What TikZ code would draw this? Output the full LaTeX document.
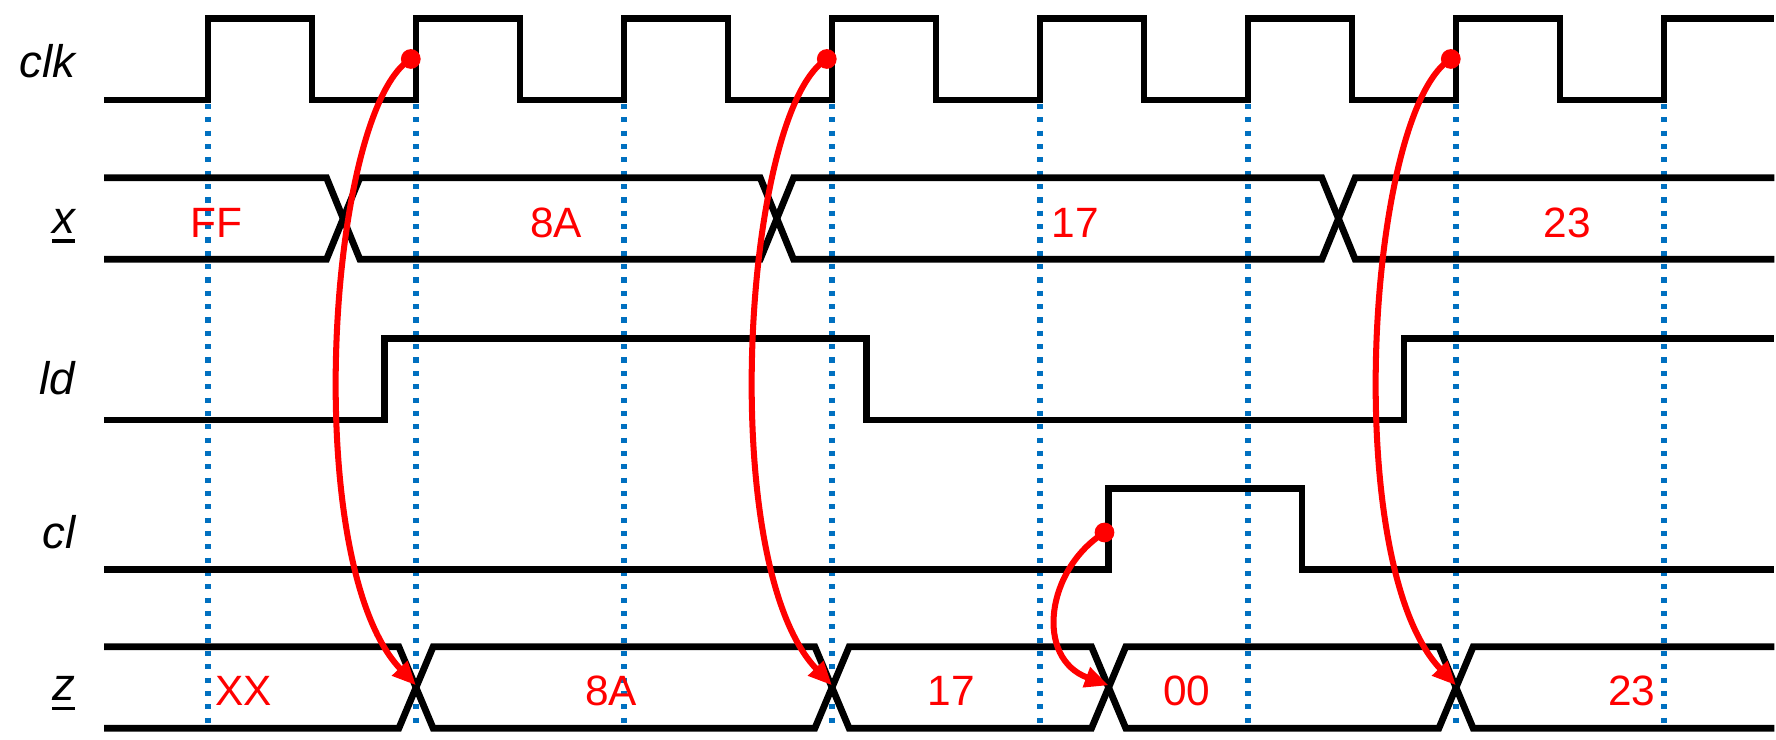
\documentclass[tikz,border=0pt]{standalone}
\usepackage{fontspec}
\setmainfont{Liberation Sans}
\definecolor{timingblue}{RGB}{0,112,192}
\definecolor{timingred}{RGB}{255,0,0}
\usetikzlibrary{arrows.meta}
\newcommand{\busname}[1]{\setbox0\hbox{#1}\rlap{\raisebox{-2.6pt}{\rule{\wd0}{1pt}}}\box0}

\begin{document}
\begin{tikzpicture}[
    wave/.style={line width=1.85pt, line join=miter},
    guide/.style={timingblue, line width=1.65pt, dash pattern=on 1.4pt off 2.25pt},
    cause/.style={timingred, line width=1.65pt, -{Triangle[length=6.5pt,width=5.5pt]}},
    sig/.style={font=\fontsize{12.5}{14}\selectfont\itshape, anchor=base east, inner sep=0pt},
    val/.style={font=\fontsize{11.6}{13}\selectfont, text=timingred, anchor=base, inner sep=0pt}
]
    \useasboundingbox (0,0) rectangle (17.077,-7.106);

    % Dotted guides at the rising clock edges
    \foreach \t in {2,4,...,16}
        \draw[guide] (\t,-1.0) -- (\t,-6.98);

    % clk
    \draw[wave] (1,-0.962) foreach \t in {2,4,...,14} {
        -- (\t,-0.962) -- (\t,-0.176) -- (\t+1,-0.176) -- (\t+1,-0.962) }
        -- (16,-0.962) -- (16,-0.176) -- (17.06,-0.176);

    % x bus
    \draw[wave] (1,-1.71) -- (3.14,-1.71) -- (3.46,-2.493) -- (7.31,-2.493) -- (7.63,-1.71)
        -- (12.71,-1.71) -- (13.03,-2.493) -- (17.06,-2.493);
    \draw[wave] (1,-2.493) -- (3.14,-2.493) -- (3.46,-1.71) -- (7.31,-1.71) -- (7.63,-2.493)
        -- (12.71,-2.493) -- (13.03,-1.71) -- (17.06,-1.71);

    % ld
    \draw[wave] (1,-4.038) -- (3.70,-4.038) -- (3.70,-3.253) -- (8.33,-3.253) -- (8.33,-4.038)
        -- (13.5,-4.038) -- (13.5,-3.253) -- (17.06,-3.253);

    % cl
    \draw[wave] (1,-5.474) -- (10.66,-5.474) -- (10.66,-4.695) -- (12.52,-4.695)
        -- (12.52,-5.474) -- (17.06,-5.474);

    % z bus
    \draw[wave] (1,-6.218) -- (3.835,-6.218) -- (4.165,-7.003) -- (7.835,-7.003) -- (8.165,-6.218)
        -- (10.495,-6.218) -- (10.825,-7.003) -- (13.835,-7.003) -- (14.165,-6.218) -- (17.06,-6.218);
    \draw[wave] (1,-7.003) -- (3.835,-7.003) -- (4.165,-6.218) -- (7.835,-6.218) -- (8.165,-7.003)
        -- (10.495,-7.003) -- (10.825,-6.218) -- (13.835,-6.218) -- (14.165,-7.003) -- (17.06,-7.003);

    % Signal names
    \node[sig] (lclk) at (0.73,-0.743) {clk};
    \node[sig] (lx) at (0.73,-2.243) {\busname{x}};
    \node[sig] (lld) at (0.73,-3.79) {ld};
    \node[sig] (lcl) at (0.73,-5.27) {cl};
    \node[sig] (lz) at (0.73,-6.74) {\busname{z}};

    % Bus values
    \node[val] (xff) at (2.077,-2.285) {FF};
    \node[val] (x8a) at (5.346,-2.285) {8A};
    \node[val] (x17) at (10.34,-2.285) {17};
    \node[val] (x23) at (15.07,-2.285) {23};
    \node[val] (zxx) at (2.346,-6.78) {XX};
    \node[val] (z8a) at (5.875,-6.78) {8A};
    \node[val] (z17) at (9.149,-6.78) {17};
    \node[val] (z00) at (11.41,-6.78) {00};
    \node[val] (z23) at (15.69,-6.78) {23};

    % Cause and effect
    \coordinate (k2) at (3.95,-0.567);
    \coordinate (k4) at (7.95,-0.567);
    \coordinate (k7) at (13.95,-0.567);
    \coordinate (c1) at (10.62,-5.12);
    \coordinate (q1) at (4,-6.59);
    \coordinate (q2) at (8,-6.59);
    \coordinate (q3) at (10.66,-6.59);
    \coordinate (q4) at (14,-6.59);
    \foreach \p in {k2,k4,k7,c1}
        \fill[timingred] (\p) circle (0.095);
    \draw[cause] (k2) .. controls +(-0.80,-0.49) and +(-1.125,1.18) .. (q1);
    \draw[cause] (k4) .. controls +(-0.80,-0.49) and +(-1.125,1.18) .. (q2);
    \draw[cause] (k7) .. controls +(-0.80,-0.49) and +(-1.125,1.18) .. (q4);
    \draw[cause] (c1) .. controls +(-0.567,-0.356) and +(-0.71,0.26) .. (q3);
\end{tikzpicture}
\end{document}
